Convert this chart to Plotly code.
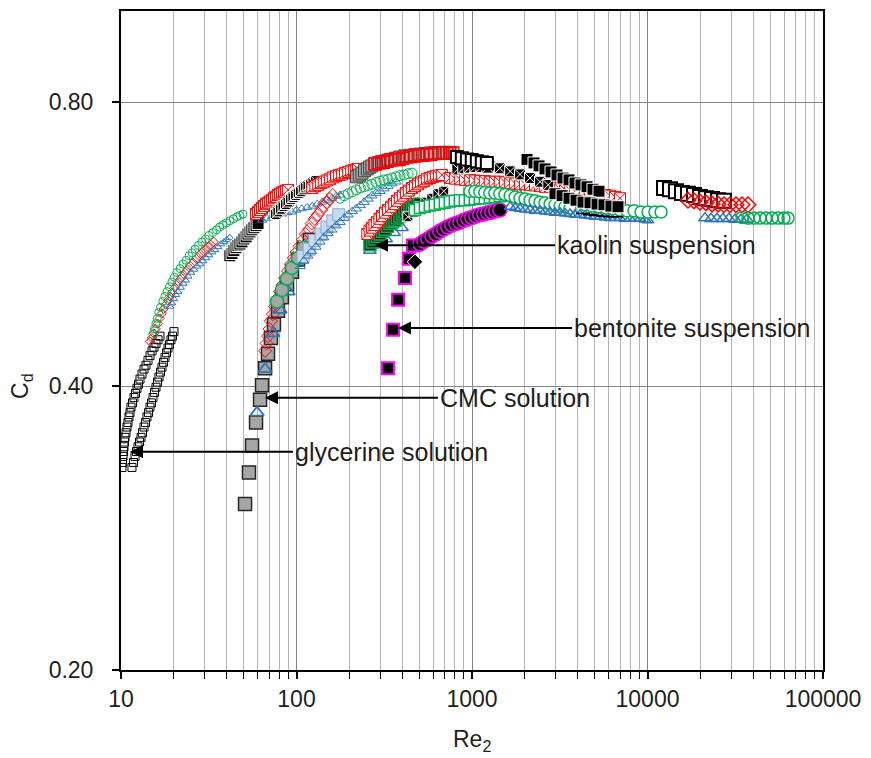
import math
import plotly.graph_objects as go

# ---------------- glycerine solution ----------------
gly_sq1_re = [10.13, 10.2, 10.27, 10.33, 10.40, 10.47, 10.54, 10.68, 10.82, 10.96, 11.10, 11.25, 11.40, 11.63, 11.86,
              12.1, 12.34, 12.58, 12.83, 13.17, 13.52, 13.88, 14.25, 14.63, 15.02, 15.42, 15.83, 16.25, 16.68]
gly_sq1_cd = [0.328, 0.332, 0.337, 0.341, 0.345, 0.349, 0.353, 0.357, 0.362, 0.366, 0.371, 0.375, 0.380, 0.384, 0.389,
              0.393, 0.398, 0.402, 0.407, 0.412, 0.417, 0.421, 0.426, 0.431, 0.436, 0.440, 0.444, 0.448, 0.452]
gly_sq2_re = [11.55, 11.78, 12.02, 12.26, 12.50, 12.75, 13.0, 13.26, 13.52, 13.79, 14.06, 14.34, 14.63, 14.92, 15.22,
              15.52, 15.83, 16.14, 16.46, 16.79, 17.12, 17.46, 17.81, 18.17, 18.53, 18.9, 19.27, 19.65, 20.04]
gly_sq2_cd = [0.328, 0.332, 0.337, 0.341, 0.345, 0.349, 0.353, 0.357, 0.362, 0.366, 0.371, 0.375, 0.380, 0.384, 0.389,
              0.394, 0.399, 0.404, 0.409, 0.414, 0.419, 0.424, 0.429, 0.434, 0.439, 0.443, 0.448, 0.452, 0.457]
gly_di_re = [14.6, 15.0, 15.4, 15.8, 16.2, 16.6, 17.1, 17.5, 18.0, 18.5, 19.0, 19.6, 20.3, 21.0, 21.7, 22.4, 23.2,
             23.9, 24.7, 25.7, 26.8, 27.8, 28.9, 30.1, 31.3, 32.5, 33.8]
gly_di_cd = [0.446, 0.450, 0.455, 0.460, 0.466, 0.472, 0.478, 0.483, 0.488, 0.493, 0.498, 0.503, 0.509, 0.514, 0.519,
             0.523, 0.528, 0.532, 0.537, 0.541, 0.546, 0.550, 0.554, 0.558, 0.562, 0.565, 0.569]
gly_ci_re = [15.2, 15.5, 15.8, 16.1, 16.4, 16.8, 17.3, 17.8, 18.3, 18.9, 19.5, 20.1, 20.8, 21.7, 22.6, 23.5, 24.4,
             25.4, 26.4, 27.6, 28.9, 30.3, 31.7, 33.3, 35.0, 36.5, 38.1, 39.9, 41.7, 43.7, 45.8, 47.6, 49.5]
gly_ci_cd = [0.454, 0.460, 0.466, 0.472, 0.479, 0.485, 0.492, 0.498, 0.504, 0.510, 0.516, 0.522, 0.528, 0.533, 0.539,
             0.544, 0.550, 0.554, 0.559, 0.564, 0.569, 0.573, 0.578, 0.582, 0.586, 0.590, 0.593, 0.596, 0.599, 0.602,
             0.605, 0.607, 0.609]
gly_tr_re = [19.0, 19.5, 20.0, 20.5, 21.1, 21.8, 22.6, 23.3, 24.1, 25.0, 26.0, 27.1, 28.2, 29.3, 30.5, 31.7, 33.0,
             34.3, 35.7, 37.1, 38.6, 40.1, 41.7]
gly_tr_cd = [0.486, 0.490, 0.495, 0.500, 0.504, 0.509, 0.514, 0.518, 0.523, 0.528, 0.532, 0.536, 0.539, 0.543, 0.547,
             0.551, 0.555, 0.558, 0.562, 0.566, 0.569, 0.572, 0.575]
gly_sq3_re = [41.7, 42.9, 44.0, 45.2, 46.4, 47.6, 48.9, 50.2, 51.6, 52.9, 54.3, 55.7, 57.2, 58.8, 60.4]
gly_sq3_cd = [0.550, 0.553, 0.557, 0.561, 0.564, 0.566, 0.569, 0.573, 0.576, 0.580, 0.583, 0.586, 0.589, 0.592, 0.595]
gly_tr2_re = [63.6, 67.9, 72.5, 77.4, 82.6, 88.2, 94.2, 100, 107, 115, 123, 131, 140, 149, 159, 168, 177]
gly_tr2_cd = [0.600, 0.603, 0.605, 0.607, 0.609, 0.611, 0.612, 0.615, 0.617, 0.619, 0.621, 0.624, 0.627, 0.630, 0.633,
              0.636, 0.638]
gly_rsq1_re = [58.8, 60.4, 62.0, 63.6, 65.3, 67.0, 68.8, 70.6, 72.5, 74.4, 76.4, 78.4, 80.5, 82.6, 84.9, 87.1, 89.4]
gly_rsq1_cd = [0.609, 0.612, 0.615, 0.618, 0.621, 0.624, 0.626, 0.628, 0.630, 0.633, 0.635, 0.638, 0.640, 0.642, 0.643,
               0.645, 0.646]
gly_bsq_re = [76.4, 78.9, 81.5, 84.3, 87.1, 90.0, 93.0, 96.1, 99.3, 103, 106, 110, 113, 117, 121, 125, 129]
gly_bsq_cd = [0.609, 0.613, 0.617, 0.621, 0.624, 0.628, 0.632, 0.635, 0.638, 0.641, 0.644, 0.648, 0.651, 0.653, 0.655,
              0.658, 0.660]
gly_rsq2_re = [123, 128, 133, 138, 143, 149, 155, 161, 168, 175, 182, 189, 197, 205, 213, 219, 224]
gly_rsq2_cd = [0.649, 0.652, 0.654, 0.657, 0.659, 0.661, 0.663, 0.666, 0.668, 0.670, 0.671, 0.673, 0.675, 0.677, 0.678,
               0.679, 0.680]

# ---------------- CMC solution ----------------
cmc_gsq_re = [50.9, 53.6, 55.8, 58.8, 62.0, 63.6, 66.2, 68.8, 71.5, 74.4, 78.4, 82.6, 88.3, 94.2, 102, 110, 119]
cmc_gsq_cd = [0.300, 0.324, 0.346, 0.366, 0.387, 0.401, 0.418, 0.433, 0.450, 0.465, 0.481, 0.497, 0.513, 0.529, 0.545,
              0.559, 0.572]
cmc_di_re = [66.2, 67.5, 68.8, 70.1, 71.5, 73.4, 75.4, 77.9, 80.5, 83.2, 86.0, 89.4, 93.0, 96.4, 100, 104, 109, 113,
             118, 122, 127, 132, 138, 143, 149, 155, 161]
cmc_di_cd = [0.436, 0.444, 0.452, 0.460, 0.469, 0.477, 0.486, 0.495, 0.504, 0.512, 0.521, 0.530, 0.539, 0.547, 0.555,
             0.563, 0.572, 0.580, 0.587, 0.595, 0.602, 0.608, 0.615, 0.621, 0.627, 0.632, 0.638]
cmc_tr_re = [59.6, 66.2, 73.4, 80.5, 89.4]
cmc_tr_cd = [0.375, 0.417, 0.455, 0.482, 0.504]
cmc_ci_re = [77.4, 82.6, 88.3, 94.2, 102, 110]
cmc_ci_cd = [0.492, 0.506, 0.520, 0.534, 0.547, 0.561]
cmc_lsq_re = [109, 118, 127, 138, 149, 161, 174]
cmc_lsq_cd = [0.549, 0.559, 0.571, 0.580, 0.590, 0.599, 0.608]
cmc_tr2_re = [105, 110, 116, 122, 129, 136, 143, 151, 159, 168, 177, 187, 197, 208, 219, 231, 243, 256, 269, 284, 299,
              315, 332, 350, 369]
cmc_tr2_cd = [0.536, 0.543, 0.550, 0.556, 0.562, 0.569, 0.575, 0.581, 0.586, 0.592, 0.597, 0.603, 0.608, 0.613, 0.617,
              0.622, 0.627, 0.632, 0.637, 0.641, 0.644, 0.648, 0.652, 0.656, 0.659]
cmc_ci2_re = [177, 187, 197, 208, 219, 231, 243, 256, 269, 284, 299, 315, 332, 350, 369, 389, 410, 432, 455]
cmc_ci2_cd = [0.633, 0.637, 0.640, 0.643, 0.646, 0.649, 0.651, 0.653, 0.655, 0.658, 0.660, 0.662, 0.663, 0.665, 0.667,
              0.669, 0.670, 0.672, 0.673]
cmc_gsq2_re = [220, 228, 236, 244, 253, 261, 269, 280, 291, 305, 320, 335, 350, 368, 388, 414, 443, 473, 505, 539, 575,
               614, 656, 700, 748]
cmc_gsq2_cd = [0.667, 0.670, 0.673, 0.677, 0.680, 0.683, 0.685, 0.688, 0.690, 0.692, 0.693, 0.695, 0.696, 0.698, 0.700,
               0.702, 0.703, 0.704, 0.705, 0.706, 0.707, 0.707, 0.708, 0.708, 0.708]
cmc_rsq_re = [280, 296, 312, 328, 345, 364, 383, 402, 423, 447, 473, 497, 523, 552, 582, 614, 647, 682, 719, 747, 777]
cmc_rsq_cd = [0.688, 0.690, 0.691, 0.693, 0.695, 0.696, 0.696, 0.698, 0.700, 0.701, 0.702, 0.703, 0.703, 0.704, 0.705,
              0.706, 0.707, 0.707, 0.707, 0.707, 0.707]
cmc_wsq_re = [820, 875, 935, 997, 1065, 1137, 1215]
cmc_wsq_cd = [0.700, 0.698, 0.696, 0.695, 0.693, 0.691, 0.690]
cmc_bsq_re = [831, 898, 972, 1051, 1137, 1231]
cmc_bsq_cd = [0.680, 0.682, 0.683, 0.684, 0.684, 0.683]

# ---------------- bentonite suspension ----------------
ben_sq_re = [332, 355, 379, 415, 437, 461]
ben_sq_cd = [0.418, 0.459, 0.494, 0.521, 0.546, 0.564]
ben_di_re = [473]
ben_di_cd = [0.542]
ben_ci_re = [505, 532, 561, 591, 622, 655, 690, 727, 767, 809, 853, 899, 947, 998, 1051, 1108, 1168, 1230, 1296, 1366,
             1440]
ben_ci_cd = [0.566, 0.570, 0.573, 0.577, 0.580, 0.584, 0.587, 0.590, 0.593, 0.595, 0.597, 0.600, 0.602, 0.604, 0.606,
             0.608, 0.609, 0.611, 0.612, 0.614, 0.615]

# ---------------- kaolin suspension ----------------
kao_tr_re = [262, 291, 324, 360, 399]
kao_tr_cd = [0.557, 0.565, 0.573, 0.582, 0.589]
kao_ksq_re = [262, 271, 280, 289, 299, 309, 320, 330, 341, 352, 364, 376, 388, 401, 415, 429, 443, 458, 473, 489, 505]
kao_ksq_cd = [0.565, 0.569, 0.573, 0.577, 0.580, 0.584, 0.587, 0.591, 0.595, 0.598, 0.600, 0.603, 0.606, 0.609, 0.612,
              0.615, 0.617, 0.619, 0.621, 0.623, 0.624]
kao_bsq_re = [431, 467, 505, 546, 590, 639, 690]
kao_bsq_cd = [0.605, 0.612, 0.620, 0.627, 0.633, 0.640, 0.644]
kao_gsq_re = [473, 505, 539, 575, 614, 655, 700, 747, 798, 852, 910, 971, 1037, 1108, 1183, 1263, 1349, 1442, 1541,
              1650, 1767]
kao_gsq_cd = [0.615, 0.618, 0.620, 0.622, 0.623, 0.625, 0.626, 0.628, 0.629, 0.630, 0.630, 0.631, 0.632, 0.633, 0.633,
              0.634, 0.635, 0.636, 0.637, 0.638, 0.638]
kao_rsq_re = [253, 261, 269, 278, 287, 297, 307, 319, 332, 346, 360, 374, 388, 404, 420, 437, 455, 473, 492, 512, 532,
              553, 575, 598, 622, 647, 673]
kao_rsq_cd = [0.580, 0.585, 0.589, 0.593, 0.597, 0.602, 0.606, 0.611, 0.615, 0.620, 0.624, 0.629, 0.633, 0.637, 0.641,
              0.645, 0.649, 0.652, 0.655, 0.658, 0.660, 0.663, 0.665, 0.667, 0.668, 0.669, 0.670]
kao_rsq2_re = [748, 799, 853, 911, 972, 1038, 1108, 1183, 1263, 1349, 1440, 1541, 1650, 1760, 1877, 2005, 2141, 2286,
               2441, 2606, 2783, 2971, 3173, 3388, 3617, 3863, 4124, 4404, 4702, 5021, 5362, 5725, 6113, 6527, 6970]
kao_rsq2_cd = [0.665, 0.664, 0.663, 0.662, 0.662, 0.661, 0.660, 0.660, 0.659, 0.659, 0.659, 0.658, 0.657, 0.656, 0.655,
               0.655, 0.654, 0.653, 0.652, 0.651, 0.651, 0.649, 0.647, 0.646, 0.646, 0.644, 0.643, 0.642, 0.641, 0.640,
               0.640, 0.638, 0.637, 0.635, 0.633]
kao_ci_re = [972, 1038, 1108, 1183, 1263, 1349, 1440, 1541, 1650, 1760, 1877, 2005, 2141, 2286, 2441, 2606, 2783, 2971,
             3173, 3388, 3617]
kao_ci_cd = [0.644, 0.644, 0.643, 0.642, 0.641, 0.641, 0.640, 0.639, 0.637, 0.635, 0.633, 0.632, 0.630, 0.629, 0.627,
             0.626, 0.624, 0.623, 0.621, 0.620, 0.618]
kao_tr2_re = [1650, 1760, 1877, 2005, 2141, 2286, 2441, 2606, 2783, 2971, 3173, 3388, 3617, 3863, 4124, 4404, 4702,
              5021, 5362, 5725, 6113, 6527, 6970, 7442, 7947, 8485, 9060, 9674, 10060]
kao_tr2_cd = [0.620, 0.618, 0.617, 0.616, 0.615, 0.614, 0.614, 0.613, 0.612, 0.611, 0.611, 0.610, 0.609, 0.608, 0.608,
              0.607, 0.606, 0.605, 0.605, 0.604, 0.603, 0.603, 0.603, 0.602, 0.602, 0.602, 0.602, 0.601, 0.600]
kao_ci2_re = [4404, 4830, 5290, 5800, 6360, 6970, 7640, 8380, 9190, 10060, 11030, 11950]
kao_ci2_cd = [0.623, 0.621, 0.620, 0.618, 0.617, 0.615, 0.614, 0.614, 0.612, 0.612, 0.612, 0.612]
kao_dash_re = [4300, 4700, 5100, 5600, 6100, 6600]
kao_dash_cd = [0.610, 0.608, 0.607, 0.606, 0.605, 0.605]
kao_dsq_re = [1263, 1440, 1650, 1877, 2141, 2441, 2720]
kao_dsq_cd = [0.686, 0.681, 0.676, 0.671, 0.665, 0.659, 0.654]
kao_hsq_re = [2058, 2256, 2410, 2606, 2820, 3050, 3300, 3570, 3863, 4178, 4520, 4890, 5290]
kao_hsq_cd = [0.696, 0.690, 0.685, 0.680, 0.675, 0.670, 0.665, 0.662, 0.657, 0.654, 0.651, 0.647, 0.644]
kao_hsq2_re = [2971, 3260, 3570, 3915, 4290, 4702, 5160, 5650, 6190, 6790]
kao_hsq2_cd = [0.640, 0.637, 0.633, 0.630, 0.627, 0.626, 0.624, 0.623, 0.621, 0.620]

# ---------------- highest Reynolds numbers ----------------
hi_sq_re = [12420, 13430, 14530, 15730, 17010, 18410, 19910, 21540, 23310, 25220, 27280]
hi_sq_cd = [0.649, 0.647, 0.644, 0.641, 0.640, 0.638, 0.635, 0.633, 0.632, 0.630, 0.629]
hi_di_re = [17010, 18410, 19910, 21540, 23310, 25220, 27280, 29520, 31940, 34550, 37380]
hi_di_cd = [0.630, 0.629, 0.627, 0.626, 0.624, 0.624, 0.623, 0.623, 0.623, 0.623, 0.623]
hi_tr_re = [21260, 23000, 24880, 26920, 29120, 31520, 34100, 36890]
hi_tr_cd = [0.603, 0.602, 0.602, 0.602, 0.602, 0.601, 0.601, 0.601]
hi_ci_re = [34550, 37380, 40430, 43750, 47330, 51210, 55400, 59940, 63200]
hi_ci_cd = [0.604, 0.603, 0.603, 0.603, 0.603, 0.603, 0.603, 0.603, 0.603]

x_tick_text = ["10", "100", "1000", "10000", "100000"]
y_tick_vals = [0.2, 0.4, 0.8]
y_tick_text = ["0.20", "0.40", "0.80"]

BLACK = "#000000"
RED = "#ff0000"
GREEN = "#00b050"
BLUE = "#2e75b6"
GREY = "#a6a6a6"
MAGENTA = "#ff00ff"

fig = go.Figure()


def add(re, cd, symbol, size, color, line_color=None, line_width=1.0):
    fig.add_trace(go.Scatter(
        x=re, y=cd, mode="markers", showlegend=False, hoverinfo="skip",
        marker=dict(symbol=symbol, size=size, color=color,
                    line=dict(color=line_color if line_color else color, width=line_width)),
    ))


# glycerine
add(gly_sq1_re, gly_sq1_cd, "square-open", 8, BLACK, line_width=1)
add(gly_sq2_re, gly_sq2_cd, "square-open", 8, BLACK, line_width=1)
add(gly_di_re, gly_di_cd, "diamond-open", 7, RED, line_width=1)
add(gly_tr_re, gly_tr_cd, "triangle-up-open", 7, BLUE, line_width=1)
add(gly_ci_re, gly_ci_cd, "circle-open", 8, GREEN, line_width=1)
add(gly_sq3_re, gly_sq3_cd, "square", 12, BLACK, "white", 1)
add(gly_tr2_re, gly_tr2_cd, "triangle-up-open", 8, BLUE, line_width=1)
add(gly_rsq1_re, gly_rsq1_cd, "square-x", 11, "white", RED, 1)
add(gly_bsq_re, gly_bsq_cd, "square-x", 11, BLACK, "white", 1)
add(gly_rsq2_re, gly_rsq2_cd, "square-x", 11, "white", RED, 1)

# CMC
add(cmc_gsq_re, cmc_gsq_cd, "square", 13, GREY, "#262626", 1.5)
add(cmc_di_re, cmc_di_cd, "diamond-open", 10, RED, line_width=1)
add(cmc_tr_re, cmc_tr_cd, "triangle-up-open", 12, BLUE, line_width=1.8)
add(cmc_ci_re, cmc_ci_cd, "circle", 13, GREY, GREEN, 1.5)
add(cmc_lsq_re, cmc_lsq_cd, "square", 12, "#c5d9f1", "#8aa8cf", 1)
add(cmc_tr2_re, cmc_tr2_cd, "triangle-up-open", 9, BLUE, line_width=1)
add(cmc_ci2_re, cmc_ci2_cd, "circle-open", 10, GREEN, line_width=1)
add(cmc_gsq2_re, cmc_gsq2_cd, "square", 12, GREY, "#404040", 1)
add(cmc_rsq_re, cmc_rsq_cd, "square-open", 12, RED, line_width=1.5)

# bentonite
add(ben_sq_re, ben_sq_cd, "square", 12, BLACK, MAGENTA, 2)
add(ben_di_re, ben_di_cd, "diamond", 12, BLACK, "white", 1)
add(ben_ci_re, ben_ci_cd, "circle", 14, BLACK, MAGENTA, 1.5)

# kaolin
add(kao_tr_re, kao_tr_cd, "triangle-up-open", 11, BLUE, line_width=1.5)
add(kao_ksq_re, kao_ksq_cd, "square", 12, "#1a1a1a", GREEN, 1.5)
add(kao_bsq_re, kao_bsq_cd, "square-x", 10, BLACK, "white", 1)
add(kao_gsq_re, kao_gsq_cd, "square", 11, "white", GREEN, 1.5)
add(kao_rsq_re, kao_rsq_cd, "square-x", 11, "white", RED, 1)
add(kao_rsq2_re, kao_rsq2_cd, "square-x", 11, "white", RED, 1)
add(kao_ci_re, kao_ci_cd, "circle", 12, "white", GREEN, 1.5)
add(kao_tr2_re, kao_tr2_cd, "triangle-up-open", 10, BLUE, line_width=1.5)
add(kao_ci2_re, kao_ci2_cd, "circle", 12, "white", GREEN, 1.5)
add(kao_dash_re, kao_dash_cd, "line-ew-open", 10, BLACK, line_width=1.5)
add(kao_dsq_re, kao_dsq_cd, "square-x", 11, BLACK, "white", 1)
add(kao_hsq_re, kao_hsq_cd, "square", 12, BLACK, "white", 1)
add(kao_hsq2_re, kao_hsq2_cd, "square", 12, BLACK, "white", 1)
add(cmc_bsq_re, cmc_bsq_cd, "square-x", 12, BLACK, "white", 1)
add(cmc_wsq_re, cmc_wsq_cd, "square", 12, "white", BLACK, 2)

# highest Re runs
add(hi_sq_re, hi_sq_cd, "square", 14, "white", BLACK, 2)
add(hi_di_re, hi_di_cd, "diamond-open", 12, RED, line_width=1.5)
add(hi_tr_re, hi_tr_cd, "triangle-up-open", 11, BLUE, line_width=1.5)
add(hi_ci_re, hi_ci_cd, "circle-open", 12, GREEN, line_width=1.5)

FONT = "Liberation Sans, Arial, sans-serif"
TXT = "#1e1e1e"

minor_vals = [m * 10 ** e for e in range(1, 5) for m in range(2, 10)]

fig.update_layout(
    width=871, height=758,
    margin=dict(l=121, r=48, t=9, b=88),
    paper_bgcolor="white", plot_bgcolor="white",
    font=dict(family=FONT, size=23, color=TXT),
    xaxis=dict(
        type="log", range=[1, 5],
        tickmode="array", tickvals=[10, 100, 1000, 10000, 100000], ticktext=x_tick_text,
        ticks="outside", ticklen=7, tickwidth=1.5, tickcolor=BLACK,
        showline=True, linecolor=BLACK, linewidth=2, mirror=True,
        showgrid=True, gridcolor="#858585", gridwidth=1, zeroline=False,
        tickfont=dict(family=FONT, size=23, color=TXT),
        minor=dict(tickmode="array", tickvals=minor_vals, ticks="outside", ticklen=7,
                   tickwidth=1.2, tickcolor=BLACK, showgrid=True,
                   gridcolor="#b5b5b5", gridwidth=1),
    ),
    yaxis=dict(
        type="log", range=[math.log10(0.2), 0.0],
        tickmode="array", tickvals=y_tick_vals, ticktext=y_tick_text,
        ticks="outside", ticklen=7, tickwidth=1.5, tickcolor=BLACK,
        showline=True, linecolor=BLACK, linewidth=2, mirror=True,
        showgrid=True, gridcolor="#858585", gridwidth=1, zeroline=False,
        tickfont=dict(family=FONT, size=23, color=TXT),
        ticklabelstandoff=14,
    ),
)

annotations = [
    dict(x=-0.141, y=0.431, xref="paper", yref="paper", text="C<sub>d</sub>",
         xanchor="center", yanchor="middle",
         showarrow=False, textangle=-90, font=dict(family=FONT, size=23, color=TXT)),
    dict(x=0.5, y=-0.107, xref="paper", yref="paper", text="Re<sub>2</sub>",
         xanchor="center", yanchor="middle",
         showarrow=False, font=dict(family=FONT, size=23, color=TXT)),
]

# labelled arrows: (tip x, tip y in paper units, tail offset in px, label)
arrow_specs = [
    (0.3618, 0.6445, 180, "kaolin suspension"),
    (0.3946, 0.5189, 174, "bentonite suspension"),
    (0.2051, 0.4130, 173, "CMC solution"),
    (0.0128, 0.3313, 163, "glycerine solution"),
]
for tx, ty, off, label in arrow_specs:
    annotations.append(dict(
        x=tx, y=ty, xref="paper", yref="paper", ax=off, ay=0,
        axref="pixel", ayref="pixel", text=label, xanchor="left",
        showarrow=True, arrowhead=2, arrowsize=1.3, arrowwidth=2, arrowcolor=BLACK,
        font=dict(family=FONT, size=25, color=TXT),
    ))

fig.update_layout(annotations=annotations)
fig.write_html("out.html")
